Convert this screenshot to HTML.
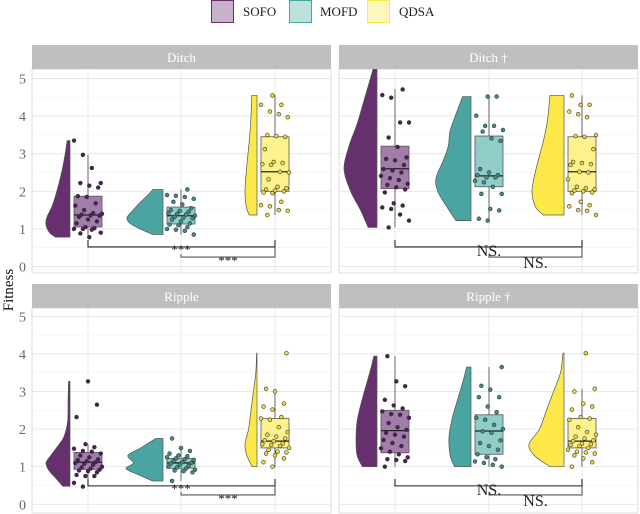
<!DOCTYPE html>
<html><head><meta charset="utf-8"><style>
body{margin:0;background:#fff;}
svg{display:block;font-family:"Liberation Serif",serif;}
</style></head><body>
<svg id="chart" width="640" height="514" viewBox="0 0 640 514"></svg>
<script>
// ---- data ----
const groups = ["SOFO","MOFD","QDSA"];
const panelTitles = ["Ditch","Ditch †","Ripple","Ripple †"];
const yTicks = [0,1,2,3,4,5];

// points per panel/group
const ditchSOFO = [3.35,2.97,2.62,2.22,2.22,2.15,2.1,1.87,1.85,1.68,1.62,1.5,1.42,1.4,1.38,1.36,1.35,1.32,1.25,1.2,1.15,1.05,1.02,1.0,1.0,0.98,0.9,0.88,0.78];
const ditchMOFD = [2.05,1.9,1.88,1.85,1.8,1.72,1.65,1.55,1.5,1.48,1.45,1.42,1.4,1.38,1.35,1.32,1.3,1.28,1.25,1.2,1.15,1.12,1.1,1.05,1.0,0.98,0.95,0.85];
const ditchQDSA = [4.55,4.3,4.3,4.12,4.05,3.97,3.5,3.47,3.45,3.12,2.78,2.75,2.72,2.7,2.52,2.5,2.32,2.12,2.08,2.05,2.02,2.0,1.97,1.95,1.72,1.63,1.6,1.5,1.48,1.37];
const ditchDSOFO = [4.71,4.56,4.49,3.83,3.83,3.43,3.18,2.9,2.86,2.82,2.7,2.59,2.55,2.5,2.41,2.35,2.3,2.2,2.17,2.11,2.05,1.97,1.68,1.62,1.57,1.53,1.38,1.22,1.04];
const ditchDMOFD = [4.52,4.52,4.01,3.74,3.74,3.63,3.59,3.41,3.34,2.59,2.5,2.43,2.43,2.37,2.37,2.28,2.24,2.12,1.93,1.93,1.53,1.49,1.27,1.22];
const rippleSOFO = [3.27,2.65,2.32,1.6,1.52,1.48,1.42,1.4,1.35,1.3,1.25,1.2,1.18,1.15,1.12,1.1,1.08,1.05,1.0,0.98,0.95,0.92,0.9,0.88,0.85,0.78,0.75,0.75,0.57,0.47];
const rippleMOFD = [1.75,1.5,1.42,1.35,1.3,1.28,1.25,1.22,1.2,1.18,1.15,1.12,1.1,1.08,1.05,1.02,1.0,0.98,0.95,0.92,0.9,0.88,0.85,0.62];
const rippleQDSA = [4.02,3.07,3.0,2.68,2.6,2.52,2.32,2.28,2.25,2.05,1.92,1.85,1.8,1.75,1.7,1.68,1.62,1.6,1.58,1.55,1.5,1.45,1.4,1.38,1.35,1.3,1.22,1.12,1.0];
const rippleDSOFO = [3.94,3.27,3.14,2.78,2.63,2.55,2.47,2.4,2.38,2.3,2.16,2.05,1.98,1.9,1.85,1.8,1.71,1.63,1.55,1.49,1.4,1.33,1.25,1.2,1.18,1.15,1.0];
const rippleDMOFD = [3.65,3.15,3.05,2.85,2.85,2.6,2.45,2.3,2.25,2.11,2.0,1.94,1.9,1.7,1.63,1.55,1.45,1.33,1.25,1.2,1.14,1.1,1.05,1.0];

// box stats [lo, q1, median, q3, hi]
const boxDitch = [[0.78,1.05,1.37,1.87,2.97],[0.85,1.13,1.35,1.58,2.05],[1.37,2.0,2.52,3.45,4.55]];
const boxDitchD = [[1.04,2.07,2.6,3.2,4.72],[1.22,2.12,2.41,3.47,4.52],[1.37,2.0,2.52,3.45,4.55]];
const boxRipple = [[0.55,0.93,1.12,1.38,1.6],[0.62,0.96,1.1,1.22,1.5],[1.0,1.5,1.68,2.28,3.07]];
const boxRippleD = [[1.0,1.37,1.96,2.5,3.94],[1.0,1.33,1.95,2.38,3.65],[1.0,1.5,1.68,2.28,3.07]];

// violin density profiles (values, relative widths)
const vDitchSOFO_y = [0.78,0.9,1.1,1.3,1.6,2.0,2.5,3.0,3.35];
const vDitchSOFO_w = [0.6,0.85,1,0.97,0.75,0.55,0.35,0.2,0.12];
const vDitchMOFD_y = [0.85,1.0,1.15,1.3,1.5,1.7,1.9,2.05];
const vDitchMOFD_w = [0.28,0.64,0.92,1,0.83,0.64,0.42,0.28];
const vQDSA_y = [1.37,1.6,2.0,2.5,3.0,3.5,4.0,4.55];
const vQDSA_w = [0.65,0.9,1,0.9,0.75,0.6,0.5,0.44];
const vDitchDSOFO_y = [1.04,1.5,2.0,2.6,3.2,3.8,4.4,5.0,5.25];
const vDitchDSOFO_w = [0.27,0.5,0.8,1,0.85,0.6,0.4,0.2,0.12];
const vDitchDMOFD_y = [1.22,1.6,2.0,2.35,2.8,3.2,3.6,4.0,4.52];
const vDitchDMOFD_w = [0.43,0.7,0.95,1,0.8,0.65,0.6,0.45,0.24];
const vRippleSOFO_y = [0.48,0.7,0.9,1.1,1.3,1.6,1.8,2.2,2.8,3.27];
const vRippleSOFO_w = [0.3,0.6,0.88,1,0.8,0.45,0.25,0.1,0.08,0.06];
const vRippleMOFD_y = [0.62,0.8,0.95,1.1,1.3,1.5,1.75];
const vRippleMOFD_w = [0.28,0.7,1,0.8,0.95,0.6,0.2];
const vRippleQDSA_y = [1.0,1.3,1.6,2.0,2.5,3.0,3.5,4.02];
const vRippleQDSA_w = [0.4,0.85,1,0.7,0.5,0.3,0.1,0.03];
const vRippleDSOFO_y = [1.0,1.3,1.7,2.2,2.7,3.2,3.6,3.94];
const vRippleDSOFO_w = [0.7,0.95,1,0.95,0.75,0.5,0.3,0.15];
const vRippleDMOFD_y = [1.0,1.3,1.8,2.3,2.8,3.3,3.65];
const vRippleDMOFD_w = [0.75,0.95,1,0.85,0.6,0.35,0.2];

// significance labels
const sigLeft = ["***","***"];
const sigRight = ["NS.","NS."];

// ---- styles / layout ----
const violinCol = ["#66306f","#4aa4a1","#fde84a"];
const boxCol = ["#a17ea9","#90cdc8","#fdf28e"];
const ptCol = ["#4e1d5a","#3b8f8b","#efd93a"];
const panels = [
  {x0:32,x1:331,top:45,y0:266.5,bot:273,title:panelTitles[0],cx:[88,181,275],vmax:[24,36,12],
   pts:[ditchSOFO,ditchMOFD,ditchQDSA],box:boxDitch,
   vy:[vDitchSOFO_y,vDitchMOFD_y,vQDSA_y],vw:[vDitchSOFO_w,vDitchMOFD_w,vQDSA_w],sig:sigLeft,labels:true},
  {x0:339,x1:638,top:45,y0:266.5,bot:273,title:panelTitles[1],cx:[395,489,582],vmax:[33,35,32],
   pts:[ditchDSOFO,ditchDMOFD,ditchQDSA],box:boxDitchD,
   vy:[vDitchDSOFO_y,vDitchDMOFD_y,vQDSA_y],vw:[vDitchDSOFO_w,vDitchDMOFD_w,vQDSA_w],sig:sigRight,labels:false},
  {x0:32,x1:331,top:284,y0:504.3,bot:513,title:panelTitles[2],cx:[88,181,275],vmax:[24,37,12],
   pts:[rippleSOFO,rippleMOFD,rippleQDSA],box:boxRipple,
   vy:[vRippleSOFO_y,vRippleMOFD_y,vRippleQDSA_y],vw:[vRippleSOFO_w,vRippleMOFD_w,vRippleQDSA_w],sig:sigLeft,labels:true},
  {x0:339,x1:638,top:284,y0:504.3,bot:513,title:panelTitles[3],cx:[395,489,582],vmax:[21,22,35],
   pts:[rippleDSOFO,rippleDMOFD,rippleQDSA],box:boxRippleD,
   vy:[vRippleDSOFO_y,vRippleDMOFD_y,vRippleQDSA_y],vw:[vRippleDSOFO_w,vRippleDMOFD_w,vRippleQDSA_w],sig:sigRight,labels:false}
];
const UNIT = 37.6;
const NS = "http://www.w3.org/2000/svg";
const svg = document.getElementById("chart");
function mk(tag, attrs, parent){
  const e = document.createElementNS(NS, tag);
  for (const k in attrs) e.setAttribute(k, attrs[k]);
  (parent||svg).appendChild(e);
  return e;
}
function smooth(pts){
  let d = "M"+pts[0][0]+","+pts[0][1];
  for (let i=0;i<pts.length-1;i++){
    const p0=pts[Math.max(0,i-1)],p1=pts[i],p2=pts[i+1],p3=pts[Math.min(pts.length-1,i+2)];
    const c1=[p1[0]+(p2[0]-p0[0])/6,p1[1]+(p2[1]-p0[1])/6];
    const c2=[p2[0]-(p3[0]-p1[0])/6,p2[1]-(p3[1]-p1[1])/6];
    d+=" C"+c1[0].toFixed(2)+","+c1[1].toFixed(2)+" "+c2[0].toFixed(2)+","+c2[1].toFixed(2)+" "+p2[0].toFixed(2)+","+p2[1].toFixed(2);
  }
  return d;
}

// legend
const legX = [211,289,367], legTx=[243,320,399];
groups.forEach((g,i)=>{
  const k = mk("rect",{x:legX[i]+0.5,y:0.5,width:22,height:22,fill:boxCol[i],"fill-opacity":0.6,stroke:violinCol[i],"stroke-width":1});
  
  
  const t = mk("text",{x:legTx[i],y:16,"font-size":13,fill:"#222"});
  t.textContent = g;
  
  
});

// y-axis title
const yt = mk("text",{x:13,y:290,"font-size":15,fill:"#111","text-anchor":"middle",transform:"rotate(-90 13 290)"});
yt.textContent = "Fitness";



panels.forEach((p,pi)=>{
  const g = mk("g",{});
  
  
  const Y = v => p.y0 - v*UNIT;
  const stripH = 24;
  mk("rect",{x:p.x0,y:p.bot- (p.bot-p.top) + stripH,width:p.x1-p.x0,height:p.bot-p.top-stripH,fill:"#fff",stroke:"#d4d4d4","stroke-width":0.8},g);
  const strip = mk("rect",{x:p.x0,y:p.top,width:p.x1-p.x0,height:stripH,fill:"#bfbfbf"},g);
  
  
  const st = mk("text",{x:(p.x0+p.x1)/2,y:p.top+17,"font-size":13,fill:"#fff","text-anchor":"middle"},g);
  st.textContent = p.title;
  // clip
  const cid = "clip"+pi;
  const cp = mk("clipPath",{id:cid},g);
  mk("rect",{x:p.x0,y:p.top+stripH,width:p.x1-p.x0,height:p.bot-p.top-stripH},cp);
  const inner = mk("g",{"clip-path":"url(#"+cid+")"},g);
  // grid
  for (let v=-0.5; v<=5.5; v+=0.5){
    const major = Number.isInteger(v);
    mk("line",{x1:p.x0,x2:p.x1,y1:Y(v),y2:Y(v),stroke:major?"#e6e6e6":"#f2f2f2","stroke-width":major?0.9:0.6},inner);
  }
  p.cx.forEach(c=>mk("line",{x1:c,x2:c,y1:p.top+stripH,y2:p.bot,stroke:"#e6e6e6","stroke-width":0.9},inner));
  if (p.labels){
    yTicks.forEach(v=>{
      const t = mk("text",{x:26,y:Y(v)+5,"font-size":14,fill:"#666","text-anchor":"end"});
      t.textContent = v;
      
      
    });
  }
  groups.forEach((gn,gi)=>{
    const c = p.cx[gi];
    const flat = c - 18;
    // violin
    const vy = p.vy[gi], vw = p.vw[gi];
    const edge = vy.map((v,k)=>[flat - vw[k]*p.vmax[gi], Y(v)]);
    let d = "M"+flat+","+Y(vy[0])+" L"+edge[0][0]+","+edge[0][1]+" "+smooth(edge).replace(/^M[^ ]+/,"")+" L"+flat+","+Y(vy[vy.length-1])+" Z";
    const vp = mk("path",{d:d,fill:violinCol[gi],stroke:"#555","stroke-width":0.7},inner);
    
    
    // box
    const b = p.box[gi];
    mk("line",{x1:c,x2:c,y1:Y(b[0]),y2:Y(b[1]),stroke:"#555","stroke-width":0.9},inner);
    mk("line",{x1:c,x2:c,y1:Y(b[3]),y2:Y(b[4]),stroke:"#555","stroke-width":0.9},inner);
    const br = mk("rect",{x:c-14,y:Y(b[3]),width:28,height:Y(b[1])-Y(b[3]),fill:boxCol[gi],stroke:"#555","stroke-width":0.8},inner);
    
    
    mk("line",{x1:c-14,x2:c+14,y1:Y(b[2]),y2:Y(b[2]),stroke:"#222","stroke-width":1.3},inner);
    // points
    p.pts[gi].forEach((v,k)=>{
      const j = (((k*7919+gi*131+pi*17)%23)/22 - 0.5)*28;
      const pt = mk("circle",{cx:c+j,cy:Y(v),r:1.9,fill:ptCol[gi],stroke:"#333","stroke-width":0.6},inner);
      
      
    });
  });
  // significance brackets
  const isTop = pi<2;
  const b1 = isTop?0.52:0.49, b2 = 0.25;
  const bg = mk("g",{stroke:"#222","stroke-width":1.1,fill:"none"},g);
  
  
  mk("path",{d:`M${p.cx[0]},${Y(b1)-7} V${Y(b1)} H${p.cx[2]} V${Y(b1)-7}`},bg);
  mk("path",{d:`M${p.cx[1]},${Y(b2)-3} V${Y(b2)} H${p.cx[2]} V${Y(b1)}`,stroke:"#555"},bg);
  const stars = p.sig[0]==="***";
  const fs = stars?13:16;
  const off = stars?6:6;
  const l1 = mk("text",{x:p.cx[1],y:Y(b1)+off+ (stars?1:3),"font-size":fs,fill:"#222","text-anchor":"middle"},g);
  l1.textContent = p.sig[0];
  
  
  const l2 = mk("text",{x:(p.cx[1]+p.cx[2])/2,y:Y(b2)+off+(stars?2:5),"font-size":fs,fill:"#222","text-anchor":"middle"},g);
  l2.textContent = p.sig[1];
  
  
});
</script>
</body></html>
